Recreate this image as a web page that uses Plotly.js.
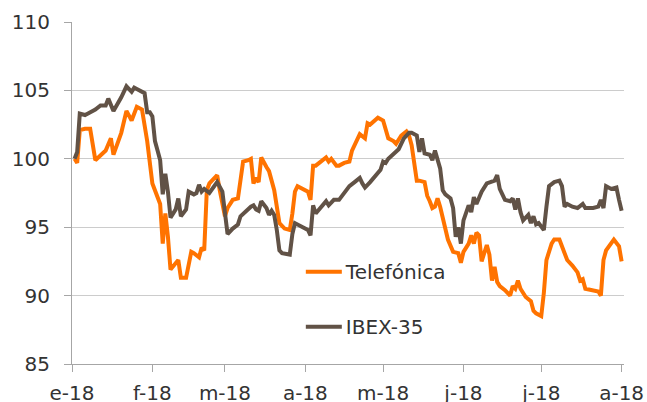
<!DOCTYPE html>
<html>
<head>
<meta charset="utf-8">
<script src="https://cdn.plot.ly/plotly-3.0.1.min.js"></script>
<style>html,body{margin:0;padding:0;background:#fff;}#chart{width:647px;height:402px;}</style>
</head>
<body>
<div id="chart"></div>
<script>
// Telefónica (orange)
const telDates = ['2018-01-02','2018-01-03','2018-01-04','2018-01-06','2018-01-08','2018-01-10','2018-01-14','2018-01-16','2018-01-17','2018-01-20','2018-01-22','2018-01-24','2018-01-26','2018-01-28','2018-01-30','2018-01-31','2018-02-01','2018-02-04','2018-02-05','2018-02-06','2018-02-07','2018-02-08','2018-02-11','2018-02-12','2018-02-14','2018-02-16','2018-02-17','2018-02-19','2018-02-20','2018-02-21','2018-02-22','2018-02-23','2018-02-26','2018-02-27','2018-03-01','2018-03-02','2018-03-04','2018-03-06','2018-03-07','2018-03-08','2018-03-10','2018-03-11','2018-03-12','2018-03-13','2018-03-14','2018-03-15','2018-03-17','2018-03-18','2018-03-20','2018-03-21','2018-03-22','2018-03-24','2018-03-26','2018-03-27','2018-03-28','2018-03-29','2018-03-31','2018-04-02','2018-04-03','2018-04-04','2018-04-05','2018-04-07','2018-04-08','2018-04-09','2018-04-10','2018-04-11','2018-04-13','2018-04-14','2018-04-16','2018-04-18','2018-04-19','2018-04-21','2018-04-22','2018-04-24','2018-04-25','2018-04-26','2018-04-27','2018-04-29','2018-05-01','2018-05-03','2018-05-05','2018-05-06','2018-05-08','2018-05-10','2018-05-11','2018-05-12','2018-05-14','2018-05-15','2018-05-17','2018-05-18','2018-05-19','2018-05-20','2018-05-21','2018-05-22','2018-05-23','2018-05-25','2018-05-26','2018-05-28','2018-05-30','2018-05-31','2018-06-01','2018-06-03','2018-06-04','2018-06-05','2018-06-06','2018-06-07','2018-06-08','2018-06-09','2018-06-10','2018-06-11','2018-06-12','2018-06-13','2018-06-14','2018-06-15','2018-06-17','2018-06-19','2018-06-20','2018-06-21','2018-06-22','2018-06-23','2018-06-25','2018-06-27','2018-06-28','2018-06-29','2018-07-01','2018-07-02','2018-07-03','2018-07-05','2018-07-06','2018-07-08','2018-07-09','2018-07-11','2018-07-13','2018-07-15','2018-07-16','2018-07-17','2018-07-18','2018-07-20','2018-07-23','2018-07-24','2018-07-25','2018-07-26','2018-07-28','2018-07-29','2018-07-31','2018-08-01'];
const telValues = [100.0,99.7,102.1,102.2,102.2,99.9,100.6,101.5,100.3,101.9,103.5,102.8,103.8,103.6,101.3,100.0,98.2,96.7,93.8,96.0,94.3,91.9,92.6,91.3,91.3,93.2,93.1,92.8,93.5,93.3,97.7,98.2,98.8,97.7,95.8,96.4,97.0,97.1,98.4,99.8,99.9,100.0,98.2,98.6,98.3,100.1,99.4,99.1,97.7,96.5,95.3,94.9,94.8,96.0,97.6,98.0,97.8,97.6,97.0,99.5,99.5,99.8,99.9,100.1,99.8,100.0,99.5,99.5,99.7,99.8,100.6,101.3,101.8,101.5,102.6,102.5,102.7,103.0,102.8,101.5,101.3,101.1,101.7,102.0,101.7,101.0,98.4,98.4,98.3,97.3,96.9,96.4,96.5,97.1,96.5,94.8,94.1,93.2,93.1,92.4,93.2,93.8,94.4,93.8,94.6,94.4,92.5,93.1,93.7,93.0,91.1,92.1,91.0,90.7,90.4,90.0,90.7,90.5,91.1,90.5,89.9,89.6,88.9,88.7,88.5,90.2,92.6,93.8,94.1,94.1,93.6,92.6,92.2,91.7,91.1,91.2,90.5,90.4,90.3,90.0,92.6,93.3,93.8,94.1,93.6,92.5];

// IBEX-35 (dark brown)
const ibexDates = ['2018-01-02','2018-01-03','2018-01-04','2018-01-06','2018-01-07','2018-01-08','2018-01-10','2018-01-12','2018-01-14','2018-01-15','2018-01-17','2018-01-20','2018-01-22','2018-01-24','2018-01-25','2018-01-26','2018-01-29','2018-01-30','2018-01-31','2018-02-01','2018-02-02','2018-02-03','2018-02-04','2018-02-05','2018-02-06','2018-02-07','2018-02-08','2018-02-10','2018-02-11','2018-02-12','2018-02-14','2018-02-15','2018-02-17','2018-02-18','2018-02-19','2018-02-20','2018-02-21','2018-02-23','2018-02-24','2018-02-26','2018-02-28','2018-03-01','2018-03-02','2018-03-04','2018-03-06','2018-03-07','2018-03-09','2018-03-11','2018-03-12','2018-03-13','2018-03-14','2018-03-15','2018-03-17','2018-03-18','2018-03-19','2018-03-20','2018-03-21','2018-03-22','2018-03-23','2018-03-26','2018-03-27','2018-03-28','2018-03-31','2018-04-02','2018-04-03','2018-04-04','2018-04-05','2018-04-07','2018-04-09','2018-04-10','2018-04-12','2018-04-14','2018-04-16','2018-04-18','2018-04-20','2018-04-22','2018-04-23','2018-04-24','2018-04-26','2018-04-28','2018-04-30','2018-05-01','2018-05-02','2018-05-03','2018-05-05','2018-05-07','2018-05-09','2018-05-11','2018-05-12','2018-05-14','2018-05-15','2018-05-16','2018-05-17','2018-05-19','2018-05-20','2018-05-21','2018-05-23','2018-05-24','2018-05-25','2018-05-27','2018-05-28','2018-05-29','2018-05-30','2018-05-31','2018-06-01','2018-06-02','2018-06-03','2018-06-04','2018-06-05','2018-06-06','2018-06-08','2018-06-10','2018-06-12','2018-06-13','2018-06-14','2018-06-15','2018-06-16','2018-06-17','2018-06-19','2018-06-20','2018-06-21','2018-06-22','2018-06-23','2018-06-24','2018-06-26','2018-06-27','2018-06-28','2018-06-29','2018-06-30','2018-07-02','2018-07-03','2018-07-04','2018-07-06','2018-07-08','2018-07-09','2018-07-10','2018-07-11','2018-07-13','2018-07-15','2018-07-17','2018-07-18','2018-07-21','2018-07-23','2018-07-24','2018-07-25','2018-07-26','2018-07-28','2018-07-30','2018-07-31','2018-08-01'];
const ibexValues = [100.0,100.5,103.3,103.2,103.3,103.4,103.6,103.9,103.9,104.4,103.5,104.5,105.3,104.9,105.2,105.1,104.8,103.4,103.4,103.1,101.3,100.6,99.9,97.4,98.9,97.6,95.7,96.3,97.1,95.8,96.3,97.6,97.4,97.5,98.1,97.6,97.8,97.5,97.8,98.3,97.6,96.0,94.5,94.9,95.2,95.8,96.2,96.5,96.6,96.3,96.2,96.9,96.4,95.9,96.2,95.9,94.8,93.3,93.1,93.0,94.5,95.3,95.0,94.8,94.4,96.6,96.0,96.4,96.9,96.6,97.0,97.0,97.5,98.0,98.3,98.6,98.2,97.9,98.3,98.8,99.2,99.8,99.7,100.0,100.4,100.7,101.5,101.9,101.9,101.7,100.5,101.5,100.4,100.3,99.9,100.6,99.3,97.7,97.4,97.1,96.4,94.3,95.0,93.8,95.5,96.1,96.6,96.1,97.2,96.7,97.6,98.2,98.3,98.4,98.8,97.8,97.4,97.0,96.9,97.1,96.3,97.1,96.1,95.5,95.9,95.3,95.8,95.2,95.3,94.8,96.5,98.0,98.3,98.4,98.0,96.5,96.7,96.5,96.4,96.7,96.4,96.4,96.5,97.0,96.4,98.0,97.8,97.9,97.0,96.2];

const monthTicks = ['2018-01-01','2018-02-01','2018-03-01','2018-04-01','2018-05-01','2018-06-01','2018-07-01','2018-08-01'];
const monthLabels = ['e-18','f-18','m-18','a-18','m-18','j-18','j-18','a-18'];
const yTicks = [85, 90, 95, 100, 105, 110];

const font = {family: 'DejaVu Sans, sans-serif', size: 20, color: '#333333'};

const traces = [
  {x: telDates, y: telValues, type: 'scatter', mode: 'lines', name: 'Telefónica', legendgroup: 'a',
   line: {color: '#FF7300', width: 4}},
  {x: ibexDates, y: ibexValues, type: 'scatter', mode: 'lines', name: 'IBEX-35', legendgroup: 'b',
   line: {color: '#615246', width: 4}}
];

const layout = {
  width: 647, height: 402,
  margin: {l: 72, r: 23, t: 22, b: 38},
  paper_bgcolor: '#ffffff', plot_bgcolor: '#ffffff',
  font: font,
  showlegend: true,
  legend: {x: 0.4236, y: 0.327, xanchor: 'left', yanchor: 'top', bgcolor: 'rgba(0,0,0,0)',
           font: font, tracegroupgap: 26, traceorder: 'grouped'},
  xaxis: {
    type: 'date', range: ['2018-01-01', '2018-08-01 22:00'],
    tickmode: 'array', tickvals: monthTicks, ticktext: monthLabels,
    ticks: 'outside', ticklen: 7, tickcolor: '#a6a6a6', tickwidth: 1,
    showline: true, linecolor: '#a6a6a6', linewidth: 1,
    showgrid: false, zeroline: false, tickfont: font, ticklabelstandoff: 4
  },
  yaxis: {
    range: [85, 110], tickmode: 'array', tickvals: yTicks,
    ticks: 'outside', ticklen: 7, tickcolor: '#a6a6a6', tickwidth: 1,
    showline: true, linecolor: '#a6a6a6', linewidth: 1,
    showgrid: true, gridcolor: '#cccccc', gridwidth: 1.3, zeroline: false,
    tickfont: font, ticklabelstandoff: 10
  }
};

Plotly.newPlot('chart', traces, layout, {staticPlot: true, displayModeBar: false}).then(function () {
  // longer legend line samples, as in the reference
  document.querySelectorAll('#chart .legendlines path').forEach(function (p) {
    p.setAttribute('d', 'M-12,0h48');
  });
});
</script>
</body>
</html>
